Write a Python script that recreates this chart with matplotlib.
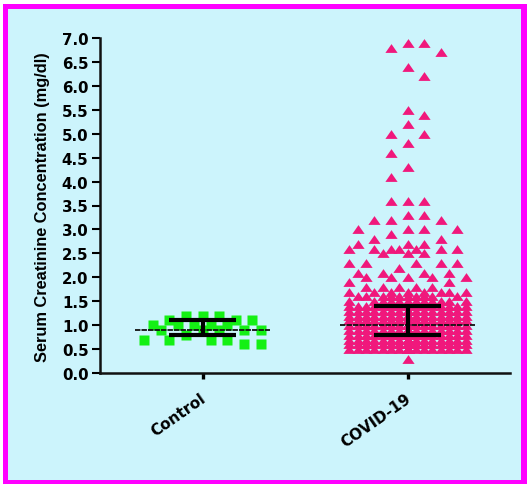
import numpy as np
import matplotlib
matplotlib.use("Agg")
import matplotlib.pyplot as plt
from matplotlib.patches import Rectangle

# ---------------- data ----------------
categories = ["Control", "COVID-19"]

control_levels = [1.2, 1.1, 1.0, 0.9, 0.8, 0.7, 0.6]
control_counts = [3, 3, 5, 5, 1, 4, 2]

covid_levels = [6.9, 6.8, 6.7, 6.4, 6.2, 5.5, 5.4, 5.2, 5.0, 4.8, 4.6, 4.3, 4.1,
                3.6, 3.3, 3.2, 3.0, 2.9, 2.8, 2.7, 2.6, 2.5, 2.3, 2.2, 2.1, 2.0,
                1.9, 1.8, 1.7, 1.6, 1.5, 1.4, 1.3, 1.2, 1.1, 1.0, 0.9, 0.8, 0.7,
                0.6, 0.5, 0.3]
covid_counts = [2, 1, 1, 1, 1, 1, 1, 1, 2, 1, 1, 1, 1,
                3, 2, 3, 4, 1, 2, 3, 7, 3, 5, 1, 4, 5,
                2, 5, 8, 10, 12, 16, 18, 20, 22, 24, 26, 26, 26,
                24, 22, 1]

# summary lines (median and interquartile range)
medians = [0.9, 1.0]
lower_q = [0.8, 0.8]
upper_q = [1.1, 1.4]

yticks = np.arange(0, 7.01, 0.5)

control_vals = np.repeat(control_levels, control_counts)
covid_vals = np.repeat(covid_levels, covid_counts)

# ---------------- figure ----------------
W, H = 527, 485
fig = plt.figure(figsize=(W / 100, H / 100), dpi=100, facecolor="white")

# magenta frame with light-cyan panel
fig.patches.append(Rectangle((3 / W, 0), 1 - 3 / W, (H - 5) / H,
                             transform=fig.transFigure, facecolor="#FF00FF",
                             edgecolor="none", zorder=-10))
fig.patches.append(Rectangle((8 / W, 4 / H), (521 - 8) / W, (481 - 10) / H,
                             transform=fig.transFigure, facecolor="#CCF4FC",
                             edgecolor="none", zorder=-9))

ax = fig.add_axes([100 / W, 111 / H, 410 / W, 335 / H])
ax.set_facecolor("none")
ax.set_xlim(-0.5, 1.5)
ax.set_ylim(0, 7.0)

fig.canvas.draw()
p0 = ax.transData.transform((0, 0))
p1 = ax.transData.transform((1, 1))
px_x = p1[0] - p0[0]
px_y = p1[1] - p0[1]


def swarm(vals, slot_px, max_k, dx_thr, dy_thr):
    """Column-scatter layout: each point goes to the slot nearest the centre
    that does not collide; if every slot collides, to the least crowded one."""
    order = np.argsort(-vals, kind="stable")
    placed = np.empty((0, 2))
    offs = np.zeros(len(vals))
    for n, i in enumerate(order):
        y = vals[i] * px_y
        sign = 1 if n % 2 == 0 else -1
        ks = sorted(range(-max_k, max_k + 1), key=lambda k: (abs(k), sign * k))
        best, best_score = None, -1.0
        for k in ks:
            x = k * slot_px
            if len(placed):
                d = np.sqrt(((placed[:, 0] - x) / dx_thr) ** 2 +
                            ((placed[:, 1] - y) / dy_thr) ** 2)
                near = (np.abs(placed[:, 0] - x) < dx_thr) & \
                       (np.abs(placed[:, 1] - y) < dy_thr)
                score = d.min()
                if not near.any():
                    best = k
                    break
            else:
                best = k
                break
            if score > best_score:
                best, best_score = k, score
        placed = np.vstack([placed, [best * slot_px, y]])
        offs[i] = best * slot_px / px_x
    return offs


ctrl_off = swarm(control_vals, 8.33, 7, 15, 11)
cov_off = swarm(covid_vals, 8.33, 7, 15, 12)

tri = [(0, 0.72), (-1, -0.72), (1, -0.72)]
ax.plot(0 + ctrl_off, control_vals, ls="none", marker="s", ms=7.2,
        mfc="#14F014", mec="none", zorder=3, clip_on=False)
ax.plot(1 + cov_off, covid_vals, ls="none", marker=tri, ms=8.8,
        mfc="#F0187C", mec="none", zorder=3, clip_on=False)

# median lines and IQR bars
for i in range(len(categories)):
    ax.plot([i - 0.33, i + 0.33], [medians[i], medians[i]], color="#111111",
            lw=1.3, ls=(0, (3, 0.6)), zorder=5, solid_capstyle="butt")
    ax.plot([i, i], [lower_q[i], upper_q[i]], color="black", lw=3.0,
            zorder=6, solid_capstyle="butt")
    for yv in (lower_q[i], upper_q[i]):
        ax.plot([i - 0.165, i + 0.165], [yv, yv], color="black", lw=3.0,
                zorder=6, solid_capstyle="butt")

# axes styling
for s in ("top", "right"):
    ax.spines[s].set_visible(False)
for s in ("left", "bottom"):
    ax.spines[s].set_color("#111111")
    ax.spines[s].set_linewidth(1.8)

ax.set_yticks(yticks)
ax.set_yticklabels([f"{v:.1f}" for v in yticks], fontfamily="DejaVu Sans",
                   fontweight="bold", fontsize=10.8)
ax.tick_params(axis="y", length=5.8, width=1.5, pad=2.5, colors="black")

ax.set_xticks(range(len(categories)))
ax.set_xticklabels([])
ax.tick_params(axis="x", length=4.3, width=2.4, colors="black")
for i, lab in enumerate(categories):
    ax.annotate(lab, xy=(i, 0), xycoords=("data", "axes fraction"),
                xytext=(-2.0, -12.5), textcoords="offset points",
                rotation=35, ha="right", va="top", rotation_mode="anchor",
                fontfamily="DejaVu Sans", fontweight="bold", fontsize=11)

fig.text(43 / W, 1 - 207 / H, "Serum Creatinine Concentration (mg/dl)",
         rotation=90, ha="center", va="center", fontfamily="Liberation Sans",
         fontweight="bold", fontsize=11.8)

fig.savefig("out.png", dpi=100, facecolor=fig.get_facecolor())
